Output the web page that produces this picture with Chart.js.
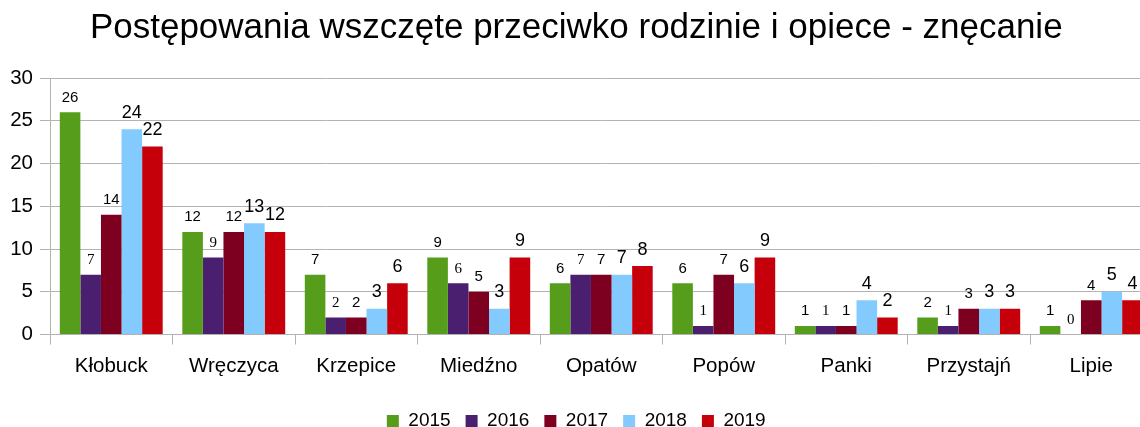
<!DOCTYPE html>
<html><head><meta charset="utf-8">
<script src="https://cdn.jsdelivr.net/npm/chart.js@4/dist/chart.umd.min.js"></script>
<style>html,body{margin:0;padding:0;overflow:hidden;background:#fff}#wrap{width:1160px;height:427px}</style>
</head><body><div id="wrap"><canvas id="c" width="1160" height="427"></canvas></div>
<script>
const categories = ['Kłobuck','Wręczyca','Krzepice','Miedźno','Opatów','Popów','Panki','Przystajń','Lipie'];
const years = ['2015','2016','2017','2018','2019'];
const v2015 = [26,12,7,9,6,6,1,2,1];
const v2016 = [7,9,2,6,7,1,1,1,0];
const v2017 = [14,12,2,5,7,7,1,3,4];
const v2018 = [24,13,3,3,7,6,4,3,5];
const v2019 = [22,12,6,9,8,9,2,3,4];
const yMin = 0, yMax = 30, yStep = 5;

const colors = ['#579d1c','#4b1f6f','#7e0021','#83caff','#c5000b'];
const labelFonts = ['15px "Liberation Sans"','15px "Liberation Serif"','15px "Liberation Sans"','18px "Liberation Sans"','18px "Liberation Sans"'];
const labelGaps = [10.5,10.5,10.5,11.5,11.5];
const series = [v2015,v2016,v2017,v2018,v2019];

const valueLabels = {
  id:'valueLabels',
  afterDatasetsDraw(chart){
    const ctx = chart.ctx;
    ctx.save();
    ctx.fillStyle = '#000';
    ctx.textAlign = 'center';
    ctx.textBaseline = 'alphabetic';
    chart.data.datasets.forEach((ds,i)=>{
      const meta = chart.getDatasetMeta(i);
      ctx.font = labelFonts[i];
      meta.data.forEach((el,j)=>{
        ctx.fillText(String(ds.data[j]), el.x, el.y - labelGaps[i]);
      });
    });
    ctx.restore();
  }
};

new Chart(document.getElementById('c'), {
  type:'bar',
  data:{
    labels: categories,
    datasets: years.map((y,i)=>({
      label:y, data:series[i], backgroundColor:colors[i], borderWidth:0,
      categoryPercentage:0.84, barPercentage:1.0
    }))
  },
  options:{
    responsive:false, animation:false,
    layout:{padding:{left:0,right:7.5,top:0,bottom:-13.5}},
    plugins:{
      title:{display:true, text:'Postępowania wszczęte przeciwko rodzinie i opiece - znęcanie',
        color:'#000', font:{family:'"Liberation Sans"', size:35, weight:'normal'}, padding:{top:7.5,bottom:28.5}},
      legend:{position:'bottom', labels:{boxWidth:12, boxHeight:12, color:'#000', padding:15,
        font:{family:'"Liberation Sans"', size:19}}},
      tooltip:{enabled:false}
    },
    scales:{
      x:{
        afterFit(s){ s.height = 62; },
        grid:{display:true, drawOnChartArea:false, drawTicks:true, tickLength:10, offset:true, color:'#b3b3b3'},
        border:{display:true, color:'#b3b3b3'},
        ticks:{color:'#000', font:{family:'"Liberation Sans"', size:20.5}, padding:9.5}
      },
      y:{
        min:yMin, max:yMax,
        afterFit(s){ s.width = 50; },
        grid:{color:'#b3b3b3', tickLength:10},
        border:{display:true, color:'#b3b3b3'},
        ticks:{stepSize:yStep, color:'#000', font:{family:'"Liberation Sans"', size:20.5}, padding:7}
      }
    }
  },
  plugins:[valueLabels]
});
</script></body></html>
